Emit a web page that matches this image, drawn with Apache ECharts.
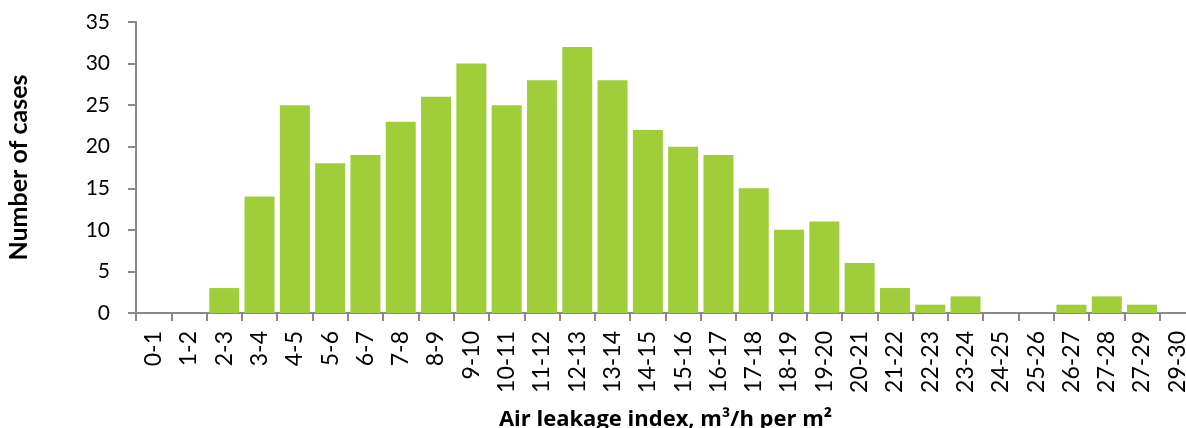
<!DOCTYPE html>
<html>
<head>
<meta charset="utf-8">
<script src="https://cdn.jsdelivr.net/npm/echarts@6/dist/echarts.min.js"></script>
<style>
  html, body { margin: 0; padding: 0; background: #fff; overflow: hidden; }
  #main { width: 1186px; height: 428px; }
</style>
</head>
<body>
<div id="main"></div>
<script>
// categories (air leakage index bins) and number of cases
var categories = ['0-1', '1-2', '2-3', '3-4', '4-5', '5-6', '6-7', '7-8', '8-9', '9-10',
  '10-11', '11-12', '12-13', '13-14', '14-15', '15-16', '16-17', '17-18', '18-19', '19-20',
  '20-21', '21-22', '22-23', '23-24', '24-25', '25-26', '26-27', '27-28', '27-29', '29-30'];
var cases = [0, 0, 3, 14, 25, 18, 19, 23, 26, 30,
  25, 28, 32, 28, 22, 20, 19, 15, 10, 11,
  6, 3, 1, 2, 0, 0, 1, 2, 1, 0];

var font = 'Lato, "Open Sans", sans-serif';
var axisGrey = '#898989';

var myChart = echarts.init(document.getElementById('main'));

var option = {
  animation: false,
  grid: {
    left: 136,
    right: -9,
    top: 22,
    bottom: 115,
    outerBoundsMode: 'none'
  },
  xAxis: {
    type: 'category',
    data: categories,
    name: 'Air leakage index, m³/h per m²',
    nameLocation: 'middle',
    nameGap: 96,
    nameTextStyle: { fontFamily: '"Open Sans", sans-serif', fontWeight: 'bold', fontSize: 22, color: '#000' },
    axisLine: { lineStyle: { color: axisGrey, width: 2 } },
    axisTick: { show: true, length: 8, lineStyle: { color: axisGrey, width: 2 } },
    axisLabel: {
      rotate: 90,
      interval: 0,
      margin: 18,
      fontFamily: font,
      fontSize: 23,
      color: '#000'
    }
  },
  yAxis: {
    type: 'value',
    min: 0,
    max: 35,
    interval: 5,
    name: 'Number of cases',
    nameLocation: 'middle',
    nameGap: 105,
    nameTextStyle: { fontFamily: font, fontWeight: 'bold', fontSize: 25, color: '#000' },
    axisLine: { show: true, lineStyle: { color: axisGrey, width: 2 } },
    axisTick: { show: true, length: 8, lineStyle: { color: axisGrey, width: 2 } },
    splitLine: { show: false },
    axisLabel: {
      margin: 26,
      fontFamily: font,
      fontSize: 21,
      color: '#000'
    }
  },
  series: [{
    type: 'bar',
    data: cases,
    barCategoryGap: '15%',
    itemStyle: { color: '#a0cd3a' }
  }]
};

myChart.setOption(option);
</script>
</body>
</html>
